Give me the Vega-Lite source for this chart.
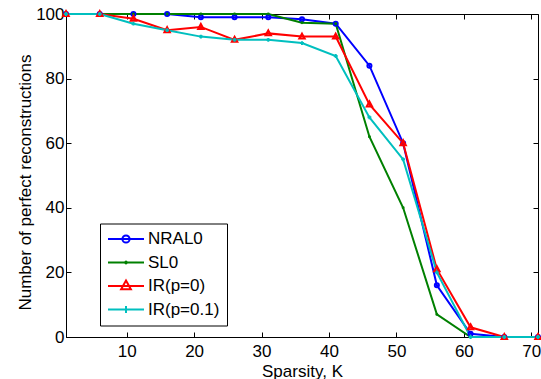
{
  "$schema": "https://vega.github.io/schema/vega-lite/v6.json",
  "width": 472,
  "height": 323,
  "autosize": {"type": "none"},
  "padding": {"left": 66, "top": 14, "right": 3, "bottom": 42},
  "background": "white",
  "config": {
    "view": {"stroke": "black", "strokeWidth": 1},
    "font": "Liberation Sans",
    "axis": {
      "domainColor": "black",
      "tickColor": "black",
      "labelColor": "black",
      "titleColor": "black",
      "labelFont": "Liberation Sans",
      "titleFont": "Liberation Sans",
      "labelFontSize": 17,
      "titleFontSize": 17,
      "titleFontWeight": "normal",
      "grid": false,
      "tickSize": -5,
      "labelFlush": false,
      "labelOverlap": false
    },
    "legend": {
      "labelFont": "Liberation Sans",
      "labelFontSize": 17,
      "labelColor": "black"
    }
  },
  "data": {
    "values": [
      {"K": 1, "method": "NRAL0", "value": 100},
      {"K": 6, "method": "NRAL0", "value": 100},
      {"K": 11, "method": "NRAL0", "value": 100},
      {"K": 16, "method": "NRAL0", "value": 100},
      {"K": 21, "method": "NRAL0", "value": 99},
      {"K": 26, "method": "NRAL0", "value": 99},
      {"K": 31, "method": "NRAL0", "value": 99},
      {"K": 36, "method": "NRAL0", "value": 98.4},
      {"K": 41, "method": "NRAL0", "value": 97},
      {"K": 46, "method": "NRAL0", "value": 84},
      {"K": 51, "method": "NRAL0", "value": 60},
      {"K": 56, "method": "NRAL0", "value": 16},
      {"K": 61, "method": "NRAL0", "value": 1},
      {"K": 66, "method": "NRAL0", "value": 0},
      {"K": 71, "method": "NRAL0", "value": 0},
      {"K": 1, "method": "SL0", "value": 100},
      {"K": 6, "method": "SL0", "value": 100},
      {"K": 11, "method": "SL0", "value": 100},
      {"K": 16, "method": "SL0", "value": 100},
      {"K": 21, "method": "SL0", "value": 100},
      {"K": 26, "method": "SL0", "value": 100},
      {"K": 31, "method": "SL0", "value": 100},
      {"K": 36, "method": "SL0", "value": 97.3},
      {"K": 41, "method": "SL0", "value": 97},
      {"K": 46, "method": "SL0", "value": 62},
      {"K": 51, "method": "SL0", "value": 40},
      {"K": 56, "method": "SL0", "value": 7},
      {"K": 61, "method": "SL0", "value": 0},
      {"K": 66, "method": "SL0", "value": 0},
      {"K": 71, "method": "SL0", "value": 0},
      {"K": 1, "method": "IR(p=0)", "value": 100},
      {"K": 6, "method": "IR(p=0)", "value": 100},
      {"K": 11, "method": "IR(p=0)", "value": 98.5},
      {"K": 16, "method": "IR(p=0)", "value": 95},
      {"K": 21, "method": "IR(p=0)", "value": 96},
      {"K": 26, "method": "IR(p=0)", "value": 92},
      {"K": 31, "method": "IR(p=0)", "value": 94},
      {"K": 36, "method": "IR(p=0)", "value": 93},
      {"K": 41, "method": "IR(p=0)", "value": 93},
      {"K": 46, "method": "IR(p=0)", "value": 72},
      {"K": 51, "method": "IR(p=0)", "value": 60},
      {"K": 56, "method": "IR(p=0)", "value": 21},
      {"K": 61, "method": "IR(p=0)", "value": 3},
      {"K": 66, "method": "IR(p=0)", "value": 0},
      {"K": 71, "method": "IR(p=0)", "value": 0},
      {"K": 1, "method": "IR(p=0.1)", "value": 100},
      {"K": 6, "method": "IR(p=0.1)", "value": 100},
      {"K": 11, "method": "IR(p=0.1)", "value": 97},
      {"K": 16, "method": "IR(p=0.1)", "value": 95},
      {"K": 21, "method": "IR(p=0.1)", "value": 93},
      {"K": 26, "method": "IR(p=0.1)", "value": 92},
      {"K": 31, "method": "IR(p=0.1)", "value": 92},
      {"K": 36, "method": "IR(p=0.1)", "value": 91},
      {"K": 41, "method": "IR(p=0.1)", "value": 87},
      {"K": 46, "method": "IR(p=0.1)", "value": 68},
      {"K": 51, "method": "IR(p=0.1)", "value": 55},
      {"K": 56, "method": "IR(p=0.1)", "value": 20},
      {"K": 61, "method": "IR(p=0.1)", "value": 0},
      {"K": 66, "method": "IR(p=0.1)", "value": 0},
      {"K": 71, "method": "IR(p=0.1)", "value": 0}
    ]
  },
  "layer": [
    {
      "mark": {"type": "line", "strokeWidth": 2},
      "encoding": {
        "x": {
          "field": "K", "type": "quantitative",
          "scale": {"domain": [1, 71], "nice": false, "zero": false},
          "axis": {"orient": "bottom", "values": [10, 20, 30, 40, 50, 60, 70], "title": "Sparsity, K", "labelPadding": 11, "titlePadding": 4}
        },
        "y": {
          "field": "value", "type": "quantitative",
          "scale": {"domain": [0, 100], "nice": false},
          "axis": {"orient": "left", "values": [0, 20, 40, 60, 80, 100], "title": "Number of perfect reconstructions", "labelPadding": 7, "titlePadding": 1, "titleY": 168}
        },
        "color": {
          "field": "method", "type": "nominal",
          "scale": {"domain": ["NRAL0", "SL0", "IR(p=0)", "IR(p=0.1)"], "range": ["#0000FF", "#008000", "#FF0000", "#00BFBF"]},
          "legend": null
        }
      }
    },
    {
      "mark": {"type": "point", "filled": false, "strokeWidth": 2, "opacity": 1, "size": 144},
      "encoding": {
        "x": {
          "field": "K", "type": "quantitative",
          "axis": {"orient": "top", "values": [10, 20, 30, 40, 50, 60, 70], "labels": false, "title": null, "domain": false}
        },
        "y": {
          "field": "value", "type": "quantitative",
          "axis": {"orient": "right", "values": [0, 20, 40, 60, 80, 100], "labels": false, "title": null, "domain": false}
        },
        "color": {"field": "method", "type": "nominal", "legend": null},
        "shape": {
          "field": "method", "type": "nominal",
          "scale": {"domain": ["NRAL0", "SL0", "IR(p=0)", "IR(p=0.1)"], "range": [
            "M0.34,0A0.34,0.34 0 1,1 -0.34,0A0.34,0.34 0 1,1 0.34,0",
            "M0.08,0A0.08,0.08 0 1,1 -0.08,0A0.08,0.08 0 1,1 0.08,0",
            "M0,-0.5L0.45,0.33L-0.45,0.33Z",
            "M-0.32,0L0.32,0M0,-0.32L0,0.32"
          ]},
          "legend": null
        }
      }
    },
    {
      "transform": [{"filter": "datum.K < 0"}],
      "mark": {"type": "point", "filled": false, "strokeWidth": 2, "opacity": 1},
      "encoding": {
        "color": {
          "field": "method", "type": "nominal",
          "legend": {
            "title": null,
            "orient": "none",
            "legendX": 34,
            "legendY": 209.5,
            "direction": "vertical",
            "strokeColor": "black",
            "fillColor": "white",
            "padding": 7,
            "rowPadding": 5.5,
            "clipHeight": 17,
            "symbolSize": 1296,
            "symbolStrokeWidth": 2,
            "labelOffset": 3
          }
        },
        "shape": {
          "field": "method", "type": "nominal",
          "scale": {"domain": ["NRAL0", "SL0", "IR(p=0)", "IR(p=0.1)"], "range": [
            "M-1,0L1,0M0.2,0A0.2,0.2 0 1,1 -0.2,0A0.2,0.2 0 1,1 0.2,0",
            "M-1,0L1,0M0.05,0A0.05,0.05 0 1,1 -0.05,0A0.05,0.05 0 1,1 0.05,0",
            "M-1,0L1,0M0,-0.3L0.27,0.18L-0.27,0.18Z",
            "M-1,0L1,0M0,-0.19L0,0.19"
          ]},
          "legend": {
            "title": null,
            "orient": "none",
            "legendX": 34,
            "legendY": 209.5,
            "direction": "vertical",
            "strokeColor": "black",
            "fillColor": "white",
            "padding": 7,
            "rowPadding": 5.5,
            "clipHeight": 17,
            "symbolSize": 1296,
            "symbolStrokeWidth": 2,
            "labelOffset": 3
          }
        }
      }
    }
  ],
  "resolve": {
    "axis": {"x": "independent", "y": "independent"},
    "scale": {"shape": "independent"},
    "legend": {"color": "independent"}
  }
}
